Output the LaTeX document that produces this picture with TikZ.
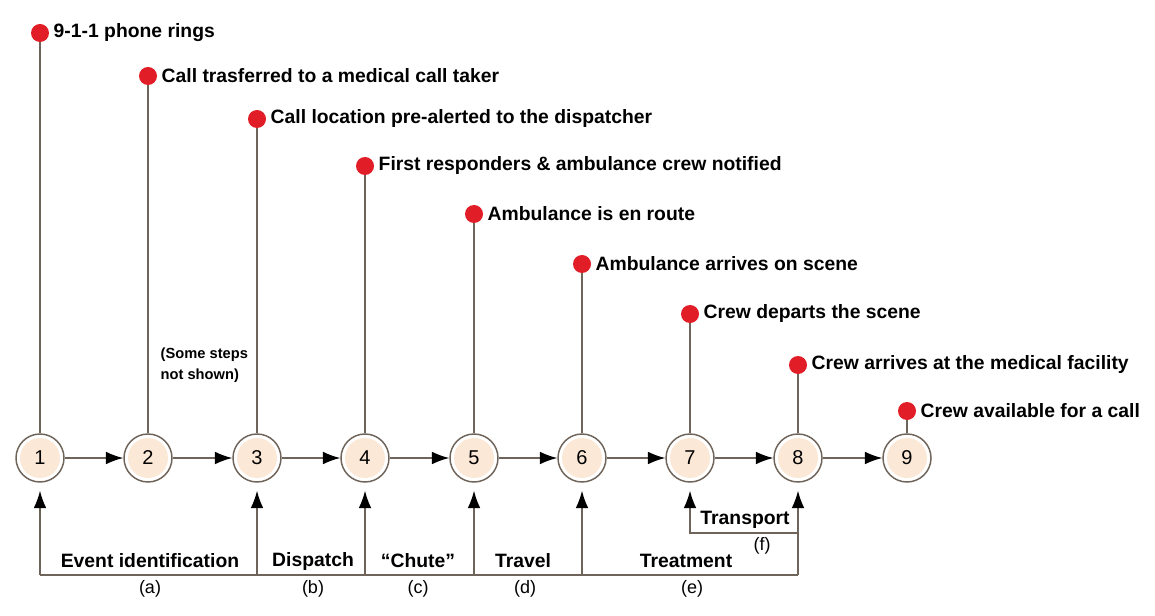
\documentclass[tikz,border=0pt]{standalone}
\usepackage{fontspec}
\setmainfont{Liberation Sans}
\usetikzlibrary{arrows.meta}
\definecolor{ln}{RGB}{110,100,90}
\definecolor{peach}{RGB}{252,232,215}
\definecolor{dot}{RGB}{225,30,40}
\begin{document}
\begin{tikzpicture}[x=0.75pt,y=-0.75pt,
 st/.style={circle,draw=ln,line width=1.1pt,fill=white,minimum size=36pt,inner sep=0pt,
   path picture={\fill[peach] (path picture bounding box.center) circle (15pt);},font=\fontsize{15}{17}\selectfont},
 rd/.style={circle,fill=dot,minimum size=13.5pt,inner sep=0pt},
 lab/.style={anchor=west,font=\bfseries\fontsize{14.5}{17}\selectfont},
 bl/.style={font=\bfseries\fontsize{14.5}{17}\selectfont},
 sl/.style={font=\fontsize{13.5}{16}\selectfont},
 ln/.style={draw=ln,line width=1pt},
 ar/.style={ln,-{Latex[length=13pt,width=9.5pt,black]}}]
\useasboundingbox (0,0) rectangle (1155,616);
\foreach \i/\x/\y/\t in {1/40/33/9-1-1 phone rings,
 2/148/76/Call trasferred to a medical call taker,
 3/257/119/Call location pre-alerted to the dispatcher,
 4/365/166/First responders \& ambulance crew notified,
 5/474/214/Ambulance is en route,
 6/582/264/Ambulance arrives on scene,
 7/690/314/Crew departs the scene,
 8/798/365/Crew arrives at the medical facility,
 9/907/411/Crew available for a call}{
 \node[st] (n\i) at (\x,458) {\i};
 \node[rd] (d\i) at (\x,\y) {};
 \node[lab] (t\i) at (\x+9,\y) {\t};
 \draw[ln] (d\i) -- (n\i);
 \coordinate (b\i) at (\x,575);
}
\foreach \a/\b in {1/2,2/3,3/4,4/5,5/6,6/7,7/8,8/9}{\draw[ar] (n\a) -- (n\b);}
\foreach \i in {1,3,4,5,6,8}{\draw[ar] (b\i) -- ([yshift=-6pt]n\i.south);}
\draw[ln] (b1) -- (b8);
\coordinate (tr8) at (798,533);
\coordinate (tr7) at (690,533);
\draw[ar] (tr8) -- (tr7) -- ([yshift=-6pt]n7.south);
\node[align=left,anchor=west,font=\bfseries\fontsize{11}{16}\selectfont] (ss) at (156,365) {(Some steps\\not shown)};
\node[bl] (l1) at (150,561) {Event identification};
\node[bl] (l2) at (313,561) {Dispatch};
\node[bl] (l3) at (418,561) {``Chute''};
\node[bl] (l4) at (523,561) {Travel};
\node[bl] (l5) at (686,561) {Treatment};
\node[bl] (l6) at (745,520) {Transport};
\node[sl] (pa) at (150,589) {(a)};
\node[sl] (pb) at (313,589) {(b)};
\node[sl] (pc) at (418,589) {(c)};
\node[sl] (pd) at (525,589) {(d)};
\node[sl] (pe) at (692,589) {(e)};
\node[sl] (pf) at (762,546) {(f)};
\end{tikzpicture}
\end{document}
